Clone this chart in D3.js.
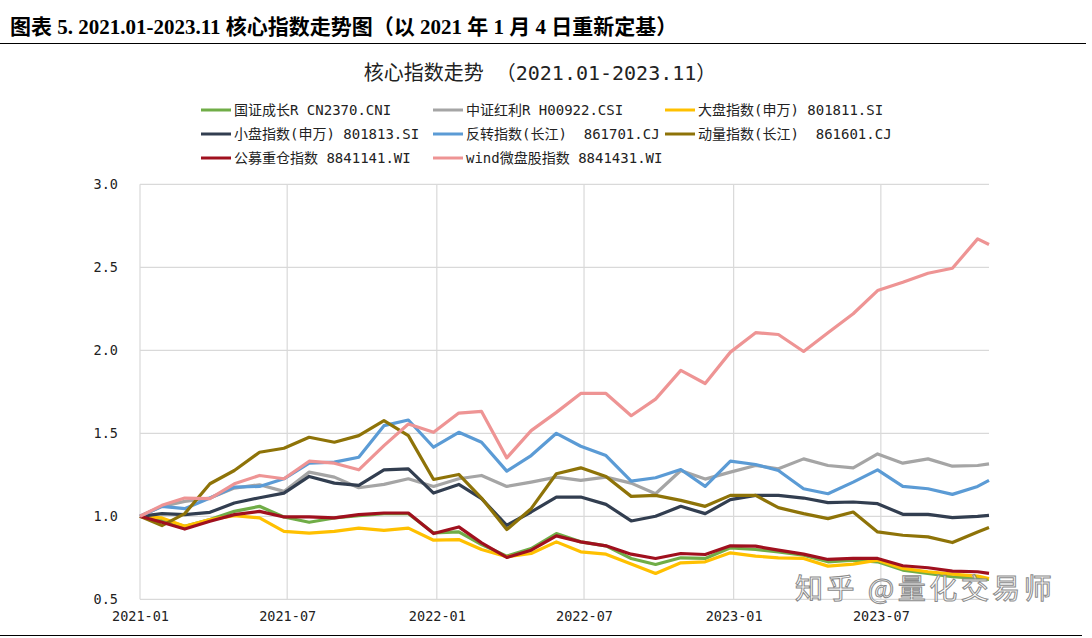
<!DOCTYPE html>
<html><head><meta charset="utf-8">
<script src="https://cdn.jsdelivr.net/npm/d3@7"></script>
<style>body{margin:0;background:#fff}svg{display:block}</style>
</head><body>
<svg id="c" width="1092" height="638"></svg>
<script>
const dates = ["2021-01-04","2021-01-31","2021-02-28","2021-03-31","2021-04-30","2021-05-31","2021-06-30","2021-07-31","2021-08-31","2021-09-30","2021-10-31","2021-11-30","2021-12-31","2022-01-31","2022-02-28","2022-03-31","2022-04-30","2022-05-31","2022-06-30","2022-07-31","2022-08-31","2022-09-30","2022-10-31","2022-11-30","2022-12-31","2023-01-31","2023-02-28","2023-03-31","2023-04-30","2023-05-31","2023-06-30","2023-07-31","2023-08-31","2023-09-30","2023-10-31","2023-11-14"];
const growth   = [1.0,0.98,0.94,0.98,1.03,1.06,0.996,0.964,0.99,1.004,1.016,1.016,0.90,0.906,0.83,0.76,0.806,0.896,0.846,0.822,0.746,0.71,0.75,0.746,0.81,0.80,0.786,0.766,0.726,0.736,0.726,0.676,0.656,0.636,0.626,0.62];
const dividend = [1.0,1.06,1.09,1.11,1.17,1.19,1.15,1.266,1.236,1.172,1.192,1.226,1.18,1.226,1.246,1.18,1.206,1.236,1.216,1.236,1.20,1.136,1.276,1.224,1.266,1.306,1.286,1.346,1.306,1.292,1.376,1.32,1.346,1.302,1.306,1.316];
const largeCap = [1.0,0.99,0.94,0.98,1.004,0.99,0.909,0.899,0.909,0.929,0.915,0.929,0.856,0.86,0.80,0.756,0.776,0.846,0.786,0.772,0.712,0.656,0.72,0.726,0.78,0.76,0.75,0.746,0.70,0.712,0.736,0.686,0.666,0.652,0.64,0.625];
const smallCap = [1.0,1.016,1.01,1.024,1.08,1.112,1.14,1.24,1.20,1.186,1.28,1.286,1.14,1.192,1.106,0.946,1.026,1.116,1.116,1.072,0.972,1.0,1.06,1.016,1.10,1.126,1.126,1.11,1.082,1.086,1.076,1.012,1.012,0.992,1.0,1.006];
const reversal = [1.0,1.06,1.046,1.11,1.176,1.18,1.226,1.32,1.326,1.356,1.546,1.58,1.416,1.506,1.446,1.272,1.366,1.50,1.422,1.366,1.212,1.232,1.282,1.18,1.332,1.312,1.276,1.166,1.136,1.206,1.28,1.18,1.166,1.132,1.18,1.216];
const momentum = [1.0,0.944,1.016,1.196,1.276,1.386,1.41,1.476,1.446,1.486,1.576,1.486,1.222,1.252,1.11,0.92,1.046,1.256,1.292,1.24,1.12,1.126,1.096,1.06,1.126,1.126,1.052,1.016,0.986,1.026,0.906,0.886,0.876,0.842,0.906,0.932];
const fundHeavy= [1.0,0.964,0.923,0.97,1.01,1.03,0.996,0.996,0.99,1.01,1.02,1.02,0.896,0.936,0.84,0.752,0.796,0.882,0.846,0.822,0.772,0.746,0.776,0.77,0.822,0.82,0.796,0.772,0.74,0.746,0.746,0.702,0.69,0.67,0.666,0.656];
const microCap = [1.0,1.066,1.11,1.106,1.196,1.246,1.226,1.332,1.32,1.28,1.426,1.556,1.506,1.622,1.632,1.352,1.516,1.626,1.74,1.74,1.606,1.706,1.879,1.80,1.989,2.106,2.095,1.993,2.106,2.22,2.36,2.41,2.464,2.494,2.671,2.637];

const seriesNames = ["国证成长R CN2370.CNI","中证红利R H00922.CSI","大盘指数(申万) 801811.SI","小盘指数(申万) 801813.SI","反转指数(长江)  861701.CJ","动量指数(长江)  861601.CJ","公募重仓指数 8841141.WI","wind微盘股指数 8841431.WI"];
const seriesValues = [growth, dividend, largeCap, smallCap, reversal, momentum, fundHeavy, microCap];
const seriesColors = ["#70AD47","#A5A5A5","#FFC000","#323E50","#5B9BD5","#8E7308","#A0101E","#EE9494"];
const yTicks = [0.5,1.0,1.5,2.0,2.5,3.0];
const xTicks = ["2021-01-04","2021-07-04","2022-01-04","2022-07-04","2023-01-04","2023-07-04"];

const parse = d3.timeParse("%Y-%m-%d");
const svg = d3.select("#c");
const x = d3.scaleTime().domain([parse(dates[0]), parse(dates[dates.length-1])]).range([140, 989]);
const y = d3.scaleLinear().domain([0.5, 3.0]).range([599.3, 184.3]);

// page title + rules
svg.append("text").attr("x", 10).attr("y", 34)
  .attr("font-family", "'Liberation Serif','Noto Sans CJK SC',serif").attr("font-weight", "bold")
  .attr("font-size", 21).attr("fill", "#000")
  .text("图表 5. 2021.01-2023.11 核心指数走势图（以 2021 年 1 月 4 日重新定基）");
svg.append("line").attr("x1", 0).attr("x2", 1086).attr("y1", 43.5).attr("y2", 43.5).attr("stroke", "#000").attr("stroke-width", 1);
svg.append("line").attr("x1", 0).attr("x2", 1082).attr("y1", 635.5).attr("y2", 635.5).attr("stroke", "#000").attr("stroke-width", 1.2);

const mono = "'DejaVu Sans Mono','Noto Sans CJK SC',monospace";
// chart title
svg.append("text").attr("x", 540).attr("y", 80).attr("text-anchor", "middle")
  .attr("font-family", mono).attr("font-size", 20).attr("fill", "#222")
  .text("核心指数走势  （2021.01-2023.11）");

// legend
const legCols = [201, 433, 665], legRows = [110, 134, 158];
seriesNames.forEach((n, i) => {
  const cx = legCols[i % 3], cy = legRows[Math.floor(i / 3)];
  svg.append("line").attr("x1", cx).attr("x2", cx + 30).attr("y1", cy).attr("y2", cy)
    .attr("stroke", seriesColors[i]).attr("stroke-width", 3);
  svg.append("text").attr("x", cx + 33).attr("y", cy + 5).attr("font-family", mono)
    .attr("font-size", 14).attr("fill", "#222").style("white-space", "pre").text(n);
});

// gridlines
const g = svg.append("g");
g.selectAll(".hg").data(yTicks).join("line")
  .attr("x1", 140).attr("x2", 989).attr("y1", d => y(d)).attr("y2", d => y(d))
  .attr("stroke", "#D9D9D9").attr("stroke-width", 1.2);
g.selectAll(".vg").data(xTicks).join("line")
  .attr("x1", d => x(parse(d))).attr("x2", d => x(parse(d))).attr("y1", y(3.0)).attr("y2", y(0.5))
  .attr("stroke", "#D9D9D9").attr("stroke-width", 1.2);

// axes labels
const yAxis = d3.axisLeft(y).tickValues(yTicks).tickFormat(d3.format(".1f")).tickSize(0).tickPadding(22);
const ya = svg.append("g").attr("transform", "translate(140,0)").call(yAxis);
ya.select(".domain").remove();
ya.selectAll("text").attr("font-family", mono).attr("font-size", 13.5).attr("fill", "#222");
const xAxis = d3.axisBottom(x).tickValues(xTicks.map(parse)).tickFormat(d3.timeFormat("%Y-%m")).tickSize(0).tickPadding(12);
const xa = svg.append("g").attr("transform", `translate(0,${y(0.5)})`).call(xAxis);
xa.select(".domain").remove();
xa.selectAll("text").attr("font-family", mono).attr("font-size", 13.5).attr("fill", "#222");

// lines
const line = d3.line().x((d, i) => x(parse(dates[i]))).y(d => y(d));
seriesValues.forEach((vals, i) => {
  svg.append("path").datum(vals).attr("d", line).attr("fill", "none")
    .attr("stroke", seriesColors[i]).attr("stroke-width", 3.2).attr("stroke-linejoin", "round");
});

// watermark
svg.append("text").attr("x", 795).attr("y", 599)
  .attr("font-family", "'Noto Sans CJK SC',sans-serif").attr("font-size", 28).attr("letter-spacing", 3.5)
  .attr("fill", "rgba(255,255,255,0.75)").attr("stroke", "#8a8a8a").attr("stroke-width", 1)
  .text("知乎 @量化交易师");
</script>
</body></html>
